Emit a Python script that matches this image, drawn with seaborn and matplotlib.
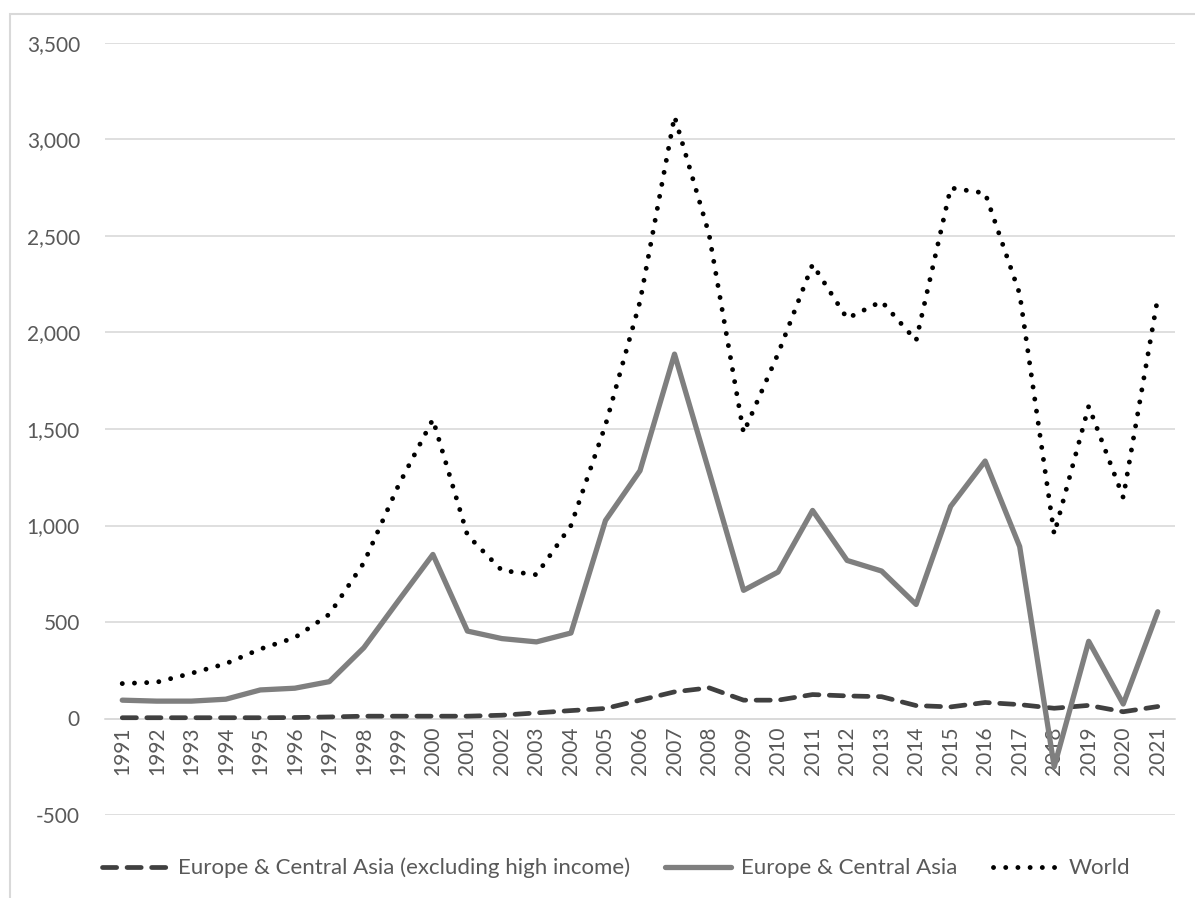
import numpy as np
import matplotlib.pyplot as plt
import matplotlib.ticker as mticker
from matplotlib.patches import Rectangle
import seaborn as sns

years = list(range(1991, 2022))

eca_excl_high = [4, 4, 4, 4, 4, 5, 8, 12, 12, 12, 12, 17, 29, 41, 52, 95,
                 138, 159, 95, 95, 124, 117, 113, 67, 60, 83, 72, 53, 68, 35, 62]
eca = [95, 90, 90, 100, 148, 157, 191, 367, 610, 850, 453, 414, 397, 443,
       1026, 1284, 1888, 1280, 664, 759, 1078, 819, 764, 591, 1099, 1334,
       891, -250, 400, 75, 553]
world = [181, 188, 234, 284, 360, 419, 540, 807, 1207, 1550, 950, 767, 745,
         1000, 1520, 2160, 3120, 2510, 1480, 1890, 2353, 2073, 2161, 1958,
         2749, 2722, 2200, 955, 1618, 1145, 2179]

labels = ["Europe & Central Asia (excluding high income)",
          "Europe & Central Asia", "World"]

sns.set_style("white")
plt.rcParams['font.family'] = ['Lato', 'DejaVu Sans']
text_col = "#595959"
grid_col = "#d9d9d9"

fig = plt.figure(figsize=(11.95, 8.98), dpi=100)
W, H = 1195, 898
ax = fig.add_axes([105 / W, (H - 815) / H, (1175 - 105) / W, (815 - 43) / H])

# chart border (Excel chart area)
fig.patches.append(Rectangle((10 / W, -0.05), 1.1, (H - 14) / H + 0.05,
                             transform=fig.transFigure, fill=False,
                             edgecolor=grid_col, linewidth=1.5))

sns.lineplot(x=years, y=eca_excl_high, ax=ax, color="#404040", linewidth=3.4,
             linestyle=(0, (3.0, 2.2)), dash_capstyle="round", label=labels[0])
sns.lineplot(x=years, y=eca, ax=ax, color="#7f7f7f", linewidth=3.8,
             solid_capstyle="round", label=labels[1])
sns.lineplot(x=years, y=world, ax=ax, color="black", linewidth=3.5,
             linestyle=(0, (0.01, 2.5)), dash_capstyle="round", label=labels[2])

ax.set_xlim(1990.5, 2021.5)
ax.set_ylim(-500, 3500)
ax.set_yticks(np.arange(-500, 3501, 500))
ax.yaxis.set_major_formatter(mticker.FuncFormatter(lambda v, p: f"{v:,.0f}"))
ax.set_xticks(years)
ax.set_xticklabels([str(y) for y in years])

ax.yaxis.grid(True, color=grid_col, linewidth=1.2)
ax.set_axisbelow(True)
for s in ["top", "right", "left"]:
    ax.spines[s].set_visible(False)
ax.spines["bottom"].set_position(("data", 0))
ax.spines["bottom"].set_color(grid_col)
ax.spines["bottom"].set_linewidth(1.2)
ax.spines["bottom"].set_zorder(0.5)

ax.tick_params(axis="y", length=0, pad=18, labelsize=15, labelcolor=text_col)
ax.tick_params(axis="x", length=0, pad=6, labelsize=15, labelcolor=text_col,
               labelrotation=90)
ax.set_xlabel("")
ax.set_ylabel("")

handles, labs = ax.get_legend_handles_labels()
ax.get_legend().remove()
leg = fig.legend(handles, labs, loc="center", bbox_to_anchor=(616 / W, 1 - 868 / H),
                 ncol=3, frameon=False, handlelength=2.95, handletextpad=0.45,
                 columnspacing=1.6, fontsize=16)
for t in leg.get_texts():
    t.set_color(text_col)

fig.savefig("out.png", dpi=100)
